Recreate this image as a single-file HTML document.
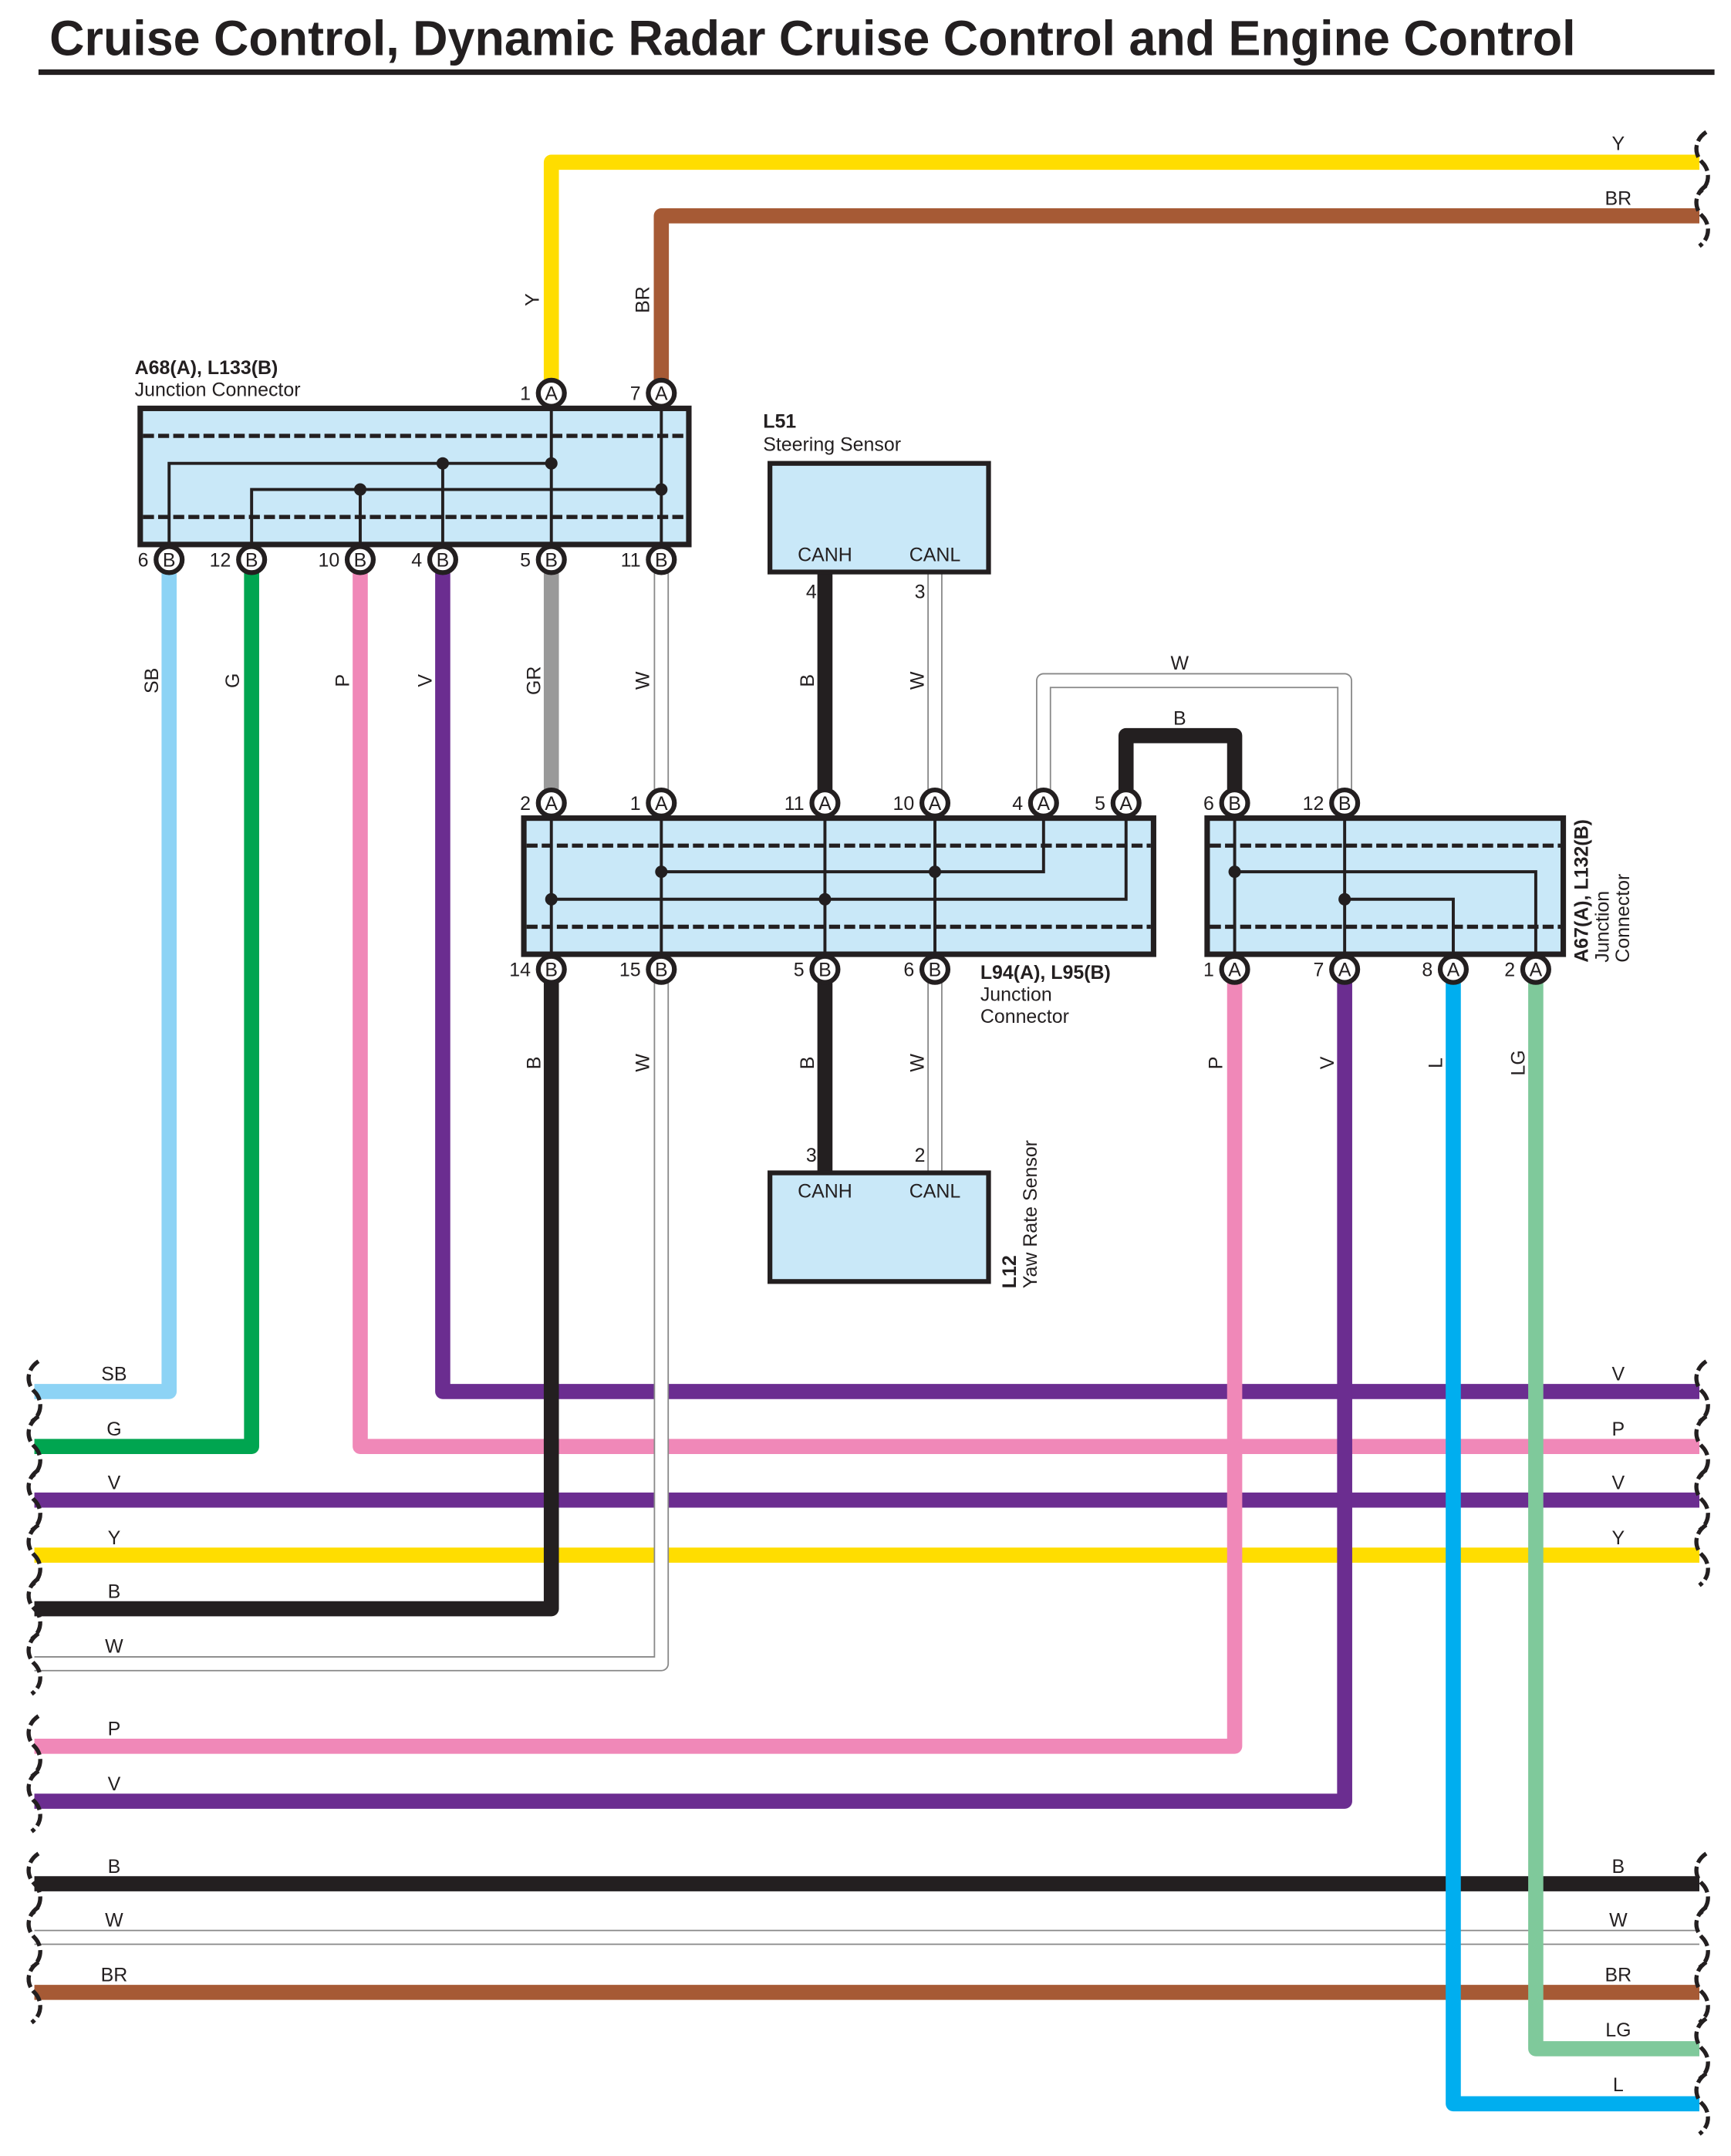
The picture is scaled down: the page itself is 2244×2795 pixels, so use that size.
<!DOCTYPE html>
<html><head><meta charset="utf-8"><style>
html,body{margin:0;padding:0;background:#fff}
svg{display:block}
text{font-family:"Liberation Sans",Arial,sans-serif;fill:#231f20}
</style></head><body>
<svg width="2244" height="2795" viewBox="0 0 1259 1568" preserveAspectRatio="none" xmlns="http://www.w3.org/2000/svg">
<text x="36" y="40" font-size="36" font-weight="bold" textLength="1110" lengthAdjust="spacingAndGlyphs">Cruise Control, Dynamic Radar Cruise Control and Engine Control</text>
<line x1="28" y1="52.5" x2="1247" y2="52.5" stroke="#231f20" stroke-width="4"/>

<g fill="none" stroke-linejoin="round" stroke-linecap="butt">
<path d="M401,285 V118 H1236" stroke="#ffdd00" stroke-width="11"/>
<path d="M481,285 V157 H1236" stroke="#a65a35" stroke-width="11"/>
<path d="M25,1091 H1236" stroke="#6b2d90" stroke-width="11"/>
<path d="M25,1131 H1236" stroke="#ffdd00" stroke-width="11"/>
<path d="M25,1370 H1236" stroke="#231f20" stroke-width="11"/>
<path d="M25,1409 H1236" stroke="#888" stroke-width="11"/>
<path d="M25,1409 H1236" stroke="#fff" stroke-width="9"/>
<path d="M25,1449 H1236" stroke="#a65a35" stroke-width="11"/>
<path d="M123,410 V1012 H25" stroke="#8dd3f5" stroke-width="11"/>
<path d="M183,410 V1052 H25" stroke="#00a550" stroke-width="11"/>
<path d="M262,410 V1052 H1236" stroke="#f088b8" stroke-width="11"/>
<path d="M322,410 V1012 H1236" stroke="#6b2d90" stroke-width="11"/>
<path d="M401,410 V580" stroke="#999" stroke-width="11"/>
<path d="M481,410 V580" stroke="#888" stroke-width="11"/>
<path d="M481,410 V580" stroke="#fff" stroke-width="9"/>
<path d="M600,416 V580" stroke="#231f20" stroke-width="11"/>
<path d="M680,416 V580" stroke="#888" stroke-width="11"/>
<path d="M680,416 V580" stroke="#fff" stroke-width="9"/>
<path d="M759,580 V495 H978 V580" stroke="#888" stroke-width="11"/>
<path d="M759,580 V495 H978 V580" stroke="#fff" stroke-width="9"/>
<path d="M819,580 V535 H898 V580" stroke="#231f20" stroke-width="11"/>
<path d="M401,708 V1170 H25" stroke="#231f20" stroke-width="11"/>
<path d="M481,708 V1210 H25" stroke="#888" stroke-width="11"/>
<path d="M481,708 V1210 H25" stroke="#fff" stroke-width="9"/>
<path d="M600,708 V853" stroke="#231f20" stroke-width="11"/>
<path d="M680,708 V853" stroke="#888" stroke-width="11"/>
<path d="M680,708 V853" stroke="#fff" stroke-width="9"/>
<path d="M898,708 V1270 H25" stroke="#f088b8" stroke-width="11"/>
<path d="M978,708 V1310 H25" stroke="#6b2d90" stroke-width="11"/>
<path d="M1117,708 V1490 H1236" stroke="#7fc99b" stroke-width="11"/>
<path d="M1057,708 V1530 H1236" stroke="#00aeef" stroke-width="11"/>
</g>

<g fill="none" stroke="#231f20" stroke-width="3" stroke-dasharray="9,3">
<path id="bl" d="M28,-22 C19,-16 19,-6 25,0 C31,6 31,16 23,22" transform="translate(0,1012)"/>
<use href="#bl" transform="translate(0,40)"/>
<use href="#bl" transform="translate(0,79)"/>
<use href="#bl" transform="translate(0,119)"/>
<use href="#bl" transform="translate(0,158)"/>
<use href="#bl" transform="translate(0,198)"/>
<use href="#bl" transform="translate(0,258)"/>
<use href="#bl" transform="translate(0,298)"/>
<use href="#bl" transform="translate(0,358)"/>
<use href="#bl" transform="translate(0,397)"/>
<use href="#bl" transform="translate(0,437)"/>
<path id="br" d="M1241,-22 C1232,-16 1232,-6 1238,0 C1244,6 1244,16 1236,22" transform="translate(0,118)"/>
<use href="#br" transform="translate(0,39)"/>
<use href="#br" transform="translate(0,894)"/>
<use href="#br" transform="translate(0,934)"/>
<use href="#br" transform="translate(0,973)"/>
<use href="#br" transform="translate(0,1013)"/>
<use href="#br" transform="translate(0,1252)"/>
<use href="#br" transform="translate(0,1291)"/>
<use href="#br" transform="translate(0,1331)"/>
<use href="#br" transform="translate(0,1372)"/>
<use href="#br" transform="translate(0,1412)"/>
</g>

<g stroke="#231f20" fill="#c9e8f8">
<rect x="102" y="297" width="399" height="99" stroke-width="4"/>
<rect x="381" y="595" width="458" height="99" stroke-width="4"/>
<rect x="878" y="595" width="259" height="99" stroke-width="4"/>
<rect x="560" y="337" width="159" height="79" stroke-width="3.5"/>
<rect x="560" y="853" width="159" height="79" stroke-width="3.5"/>
</g>
<g stroke="#231f20" stroke-width="3" stroke-dasharray="8,3">
<path d="M104,317 H499 M104,376 H499"/>
<path d="M383,615 H837 M383,674 H837"/>
<path d="M880,615 H1135 M880,674 H1135"/>
</g>
<g stroke="#231f20" stroke-width="2.2" fill="none">
<path d="M123,407 V337 H401 M183,407 V356 H481 M262,407 V356 M322,407 V337 M401,286 V407 M481,286 V407"/>
<path d="M401,584 V705 M481,584 V705 M600,584 V705 M680,584 V705 M481,634 H759 V584 M401,654 H819 V584"/>
<path d="M898,584 V705 M978,584 V705 M898,634 H1117 V705 M978,654 H1057 V705"/>
</g>
<g fill="#231f20">
<circle cx="322" cy="337" r="4.5"/><circle cx="401" cy="337" r="4.5"/>
<circle cx="262" cy="356" r="4.5"/><circle cx="481" cy="356" r="4.5"/>
<circle cx="481" cy="634" r="4.5"/><circle cx="680" cy="634" r="4.5"/>
<circle cx="401" cy="654" r="4.5"/><circle cx="600" cy="654" r="4.5"/>
<circle cx="898" cy="634" r="4.5"/><circle cx="978" cy="654" r="4.5"/>
</g>

<g font-size="14">
<g stroke="#231f20" stroke-width="3.5" fill="#fff">
<circle cx="401" cy="286" r="9.5"/><circle cx="481" cy="286" r="9.5"/>
<circle cx="123" cy="407" r="9.5"/><circle cx="183" cy="407" r="9.5"/><circle cx="262" cy="407" r="9.5"/><circle cx="322" cy="407" r="9.5"/><circle cx="401" cy="407" r="9.5"/><circle cx="481" cy="407" r="9.5"/>
<circle cx="401" cy="584" r="9.5"/><circle cx="481" cy="584" r="9.5"/><circle cx="600" cy="584" r="9.5"/><circle cx="680" cy="584" r="9.5"/><circle cx="759" cy="584" r="9.5"/><circle cx="819" cy="584" r="9.5"/>
<circle cx="401" cy="705" r="9.5"/><circle cx="481" cy="705" r="9.5"/><circle cx="600" cy="705" r="9.5"/><circle cx="680" cy="705" r="9.5"/>
<circle cx="898" cy="584" r="9.5"/><circle cx="978" cy="584" r="9.5"/>
<circle cx="898" cy="705" r="9.5"/><circle cx="978" cy="705" r="9.5"/><circle cx="1057" cy="705" r="9.5"/><circle cx="1117" cy="705" r="9.5"/>
</g>
<g text-anchor="middle">
<text x="401" y="291">A</text><text x="481" y="291">A</text>
<text x="123" y="412">B</text><text x="183" y="412">B</text><text x="262" y="412">B</text><text x="322" y="412">B</text><text x="401" y="412">B</text><text x="481" y="412">B</text>
<text x="401" y="589">A</text><text x="481" y="589">A</text><text x="600" y="589">A</text><text x="680" y="589">A</text><text x="759" y="589">A</text><text x="819" y="589">A</text>
<text x="401" y="710">B</text><text x="481" y="710">B</text><text x="600" y="710">B</text><text x="680" y="710">B</text>
<text x="898" y="589">B</text><text x="978" y="589">B</text>
<text x="898" y="710">A</text><text x="978" y="710">A</text><text x="1057" y="710">A</text><text x="1117" y="710">A</text>
</g>
<g text-anchor="end">
<text x="386" y="291">1</text><text x="466" y="291">7</text>
<text x="108" y="412">6</text><text x="168" y="412">12</text><text x="247" y="412">10</text><text x="307" y="412">4</text><text x="386" y="412">5</text><text x="466" y="412">11</text>
<text x="386" y="589">2</text><text x="466" y="589">1</text><text x="585" y="589">11</text><text x="665" y="589">10</text><text x="744" y="589">4</text><text x="804" y="589">5</text>
<text x="386" y="710">14</text><text x="466" y="710">15</text><text x="585" y="710">5</text><text x="665" y="710">6</text>
<text x="883" y="589">6</text><text x="963" y="589">12</text>
<text x="883" y="710">1</text><text x="963" y="710">7</text><text x="1042" y="710">8</text><text x="1102" y="710">2</text>
<text x="594" y="435">4</text><text x="673" y="435">3</text>
<text x="594" y="845">3</text><text x="673" y="845">2</text>
</g>
</g>

<g font-size="14">
<text x="98" y="272" font-weight="bold">A68(A), L133(B)</text>
<text x="98" y="288">Junction Connector</text>
<text x="555" y="311" font-weight="bold">L51</text>
<text x="555" y="328">Steering Sensor</text>
<text x="600" y="408" text-anchor="middle">CANH</text><text x="680" y="408" text-anchor="middle">CANL</text>
<text x="600" y="871" text-anchor="middle">CANH</text><text x="680" y="871" text-anchor="middle">CANL</text>
<text x="713" y="712" font-weight="bold">L94(A), L95(B)</text>
<text x="713" y="728">Junction</text>
<text x="713" y="744">Connector</text>
<g transform="translate(1155,700) rotate(-90)"><text x="0" y="0" font-weight="bold">A67(A), L132(B)</text><text x="0" y="15">Junction</text><text x="0" y="30">Connector</text></g>
<g transform="translate(739,937) rotate(-90)"><text x="0" y="0" font-weight="bold">L12</text><text x="0" y="15">Yaw Rate Sensor</text></g>
</g>

<g font-size="14" text-anchor="middle">
<g transform="rotate(-90)">
<text x="-218" y="392">Y</text><text x="-218" y="472">BR</text>
<text x="-495" y="115">SB</text><text x="-495" y="174">G</text><text x="-495" y="254">P</text><text x="-495" y="314">V</text><text x="-495" y="393">GR</text><text x="-495" y="472">W</text>
<text x="-495" y="592">B</text><text x="-495" y="672">W</text>
<text x="-773" y="393">B</text><text x="-773" y="472">W</text><text x="-773" y="592">B</text><text x="-773" y="672">W</text>
<text x="-773" y="889">P</text><text x="-773" y="970">V</text><text x="-773" y="1049">L</text><text x="-773" y="1109">LG</text>
</g>
<text x="858" y="487">W</text><text x="858" y="527">B</text>
<text x="1177" y="109">Y</text><text x="1177" y="149">BR</text>
<text x="83" y="1004">SB</text><text x="83" y="1044">G</text><text x="83" y="1083">V</text><text x="83" y="1123">Y</text><text x="83" y="1162">B</text><text x="83" y="1202">W</text>
<text x="83" y="1262">P</text><text x="83" y="1302">V</text><text x="83" y="1362">B</text><text x="83" y="1401">W</text><text x="83" y="1441">BR</text>
<text x="1177" y="1004">V</text><text x="1177" y="1044">P</text><text x="1177" y="1083">V</text><text x="1177" y="1123">Y</text>
<text x="1177" y="1362">B</text><text x="1177" y="1401">W</text><text x="1177" y="1441">BR</text><text x="1177" y="1481">LG</text><text x="1177" y="1521">L</text>
</g>
</svg>
</body></html>
